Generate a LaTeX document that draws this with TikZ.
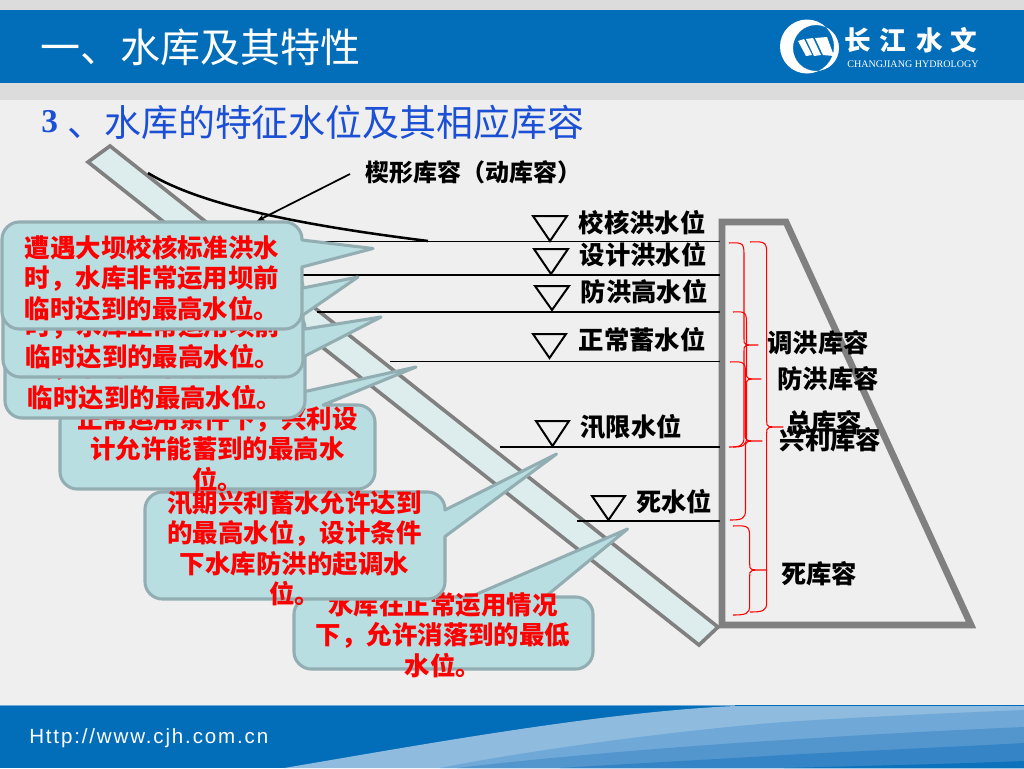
\documentclass[tikz,border=0pt]{standalone}
\usepackage{fontspec}
\setmainfont{Noto Sans CJK SC}
\newfontfamily\serifnum{Liberation Serif}
\newfontfamily\footfont[LetterSpace=9]{Liberation Sans}
\usetikzlibrary{arrows.meta}
\definecolor{pagebg}{HTML}{EFEFEF}
\definecolor{strip}{HTML}{DCDCDC}
\definecolor{barblue}{HTML}{026DB8}
\definecolor{bubblefill}{HTML}{B9DEE2}
\definecolor{bubbleline}{HTML}{92AEB2}
\definecolor{slabfill}{HTML}{DDEDED}
\definecolor{damgray}{HTML}{808080}
\definecolor{subblue}{HTML}{1B4FD6}
\definecolor{waveA}{HTML}{8FBBDE}
\definecolor{waveB}{HTML}{70A9D7}
\definecolor{waveC}{HTML}{5396CE}
\definecolor{waveD}{HTML}{3585C6}
\tikzset{
  bubblebox/.style={draw=bubbleline,fill=bubblefill,line width=2.3pt,line join=round},
  bubbletext/.style={text=red,font=\fontsize{19.1pt}{22.9pt}\selectfont\bfseries,align=center,inner sep=0pt},
  levellabel/.style={text=black,font=\fontsize{19pt}{22pt}\selectfont\bfseries,inner sep=0pt},
  waterline/.style={draw=black,line width=1.1pt},
  levelmark/.style={draw=black,line width=1.5pt,line join=miter},
  redbrace/.style={draw=red,line width=0.8pt,line join=round},
}
% x0 y0 x1 y1, insert on top edge, insert on right edge
\newcommand\bubble[6]{\draw[bubblebox] ({#1+17},#2) #5 -- ({#3-17},#2) .. controls ({#3-8},#2) and (#3,{#2+8}) .. (#3,{#2+17}) #6 -- (#3,{#4-17}) .. controls (#3,{#4-8}) and ({#3-8},#4) .. ({#3-17},#4) -- ({#1+17},#4) .. controls ({#1+8},#4) and (#1,{#4-8}) .. (#1,{#4-17}) -- (#1,{#2+17}) .. controls (#1,{#2+8}) and ({#1+8},#2) .. ({#1+17},#2) -- cycle;}
% x0 ytop spine tipx ymid ybottom
\newcommand\curlybrace[6]{\draw[redbrace] (#1,#2) .. controls (#3,{#2-1}) and (#3,{#2+1}) .. (#3,{#2+14}) -- (#3,{#5-6}) .. controls (#3,#5) .. (#4,#5) .. controls (#3,#5) .. (#3,{#5+6}) -- (#3,{#6-10}) .. controls (#3,{#6-1}) and ({#3-4},#6) .. (#1,#6);}
\newcommand\levelsign[4]{\draw[levelmark] (#1,#3) -- (#2,#3) -- ({(#1+#2)/2},#4) -- cycle;}
\begin{document}
\begin{tikzpicture}[x=0.75pt,y=-0.75pt]
\useasboundingbox (0,0) rectangle (1024,768);
% page
\fill[pagebg] (0,0) rectangle (1024,768);
\fill[strip] (0,0) rectangle (1024,100);
\fill[barblue] (0,10) rectangle (1024,83);
% footer
\fill[barblue] (0,705) rectangle (1024,768);
\draw[waveB,line width=0.8pt] (0,705.5) -- (735,705.5);
\fill[waveA] (284,768) .. controls (420,745) and (600,712) .. (735,706) -- (1024,706) -- (1024,768) -- cycle;
\fill[waveB] (440,768) .. controls (530,750) and (680,730) .. (784,722) .. controls (860,717) and (950,713) .. (1024,710) -- (1024,768) -- cycle;
\fill[waveC] (457,768) .. controls (540,758) and (680,746) .. (784,740) .. controls (860,735) and (950,730) .. (1024,727) -- (1024,768) -- cycle;
\fill[waveD] (560,768) .. controls (640,763) and (720,759) .. (784,755) .. controls (860,751) and (950,747) .. (1024,743) -- (1024,768) -- cycle;
\fill[barblue!80!waveD] (784,768) .. controls (860,766) and (950,764) .. (1024,761) -- (1024,768) -- cycle;
\node[anchor=west,text=white,inner sep=0pt,font=\footfont\fontsize{15.4pt}{18pt}\selectfont] (url) at (29,738) {Http://www.cjh.com.cn};
% header text
\node[anchor=west,text=white,inner sep=0pt,font=\fontsize{30pt}{36pt}\selectfont] (title) at (40,47) {一、水库及其特性};
\node[anchor=west,text=subblue,inner sep=0pt,font=\serifnum\bfseries\fontsize{25pt}{30pt}\selectfont] (subnum) at (41,122) {3};
\node[anchor=west,text=subblue,inner sep=0pt,font=\fontsize{27.7pt}{33pt}\selectfont] (subtitle) at (67,122) {、水库的特征水位及其相应库容};
% logo
\fill[white,even odd rule] (807,46.5) circle (27) (816,48) circle (23);
\fill[white] (798,41) -- (804,39) -- (812,55) -- (806,56) -- cycle;
\fill[white] (806,39) -- (813,38) -- (821,55) -- (814,56) -- cycle;
\fill[white] (815,38) -- (827,37) -- (834,56) -- (823,55) -- cycle;
\foreach \cx/\ch/\nm in {858/长/la,893/江/lb,930/水/lc,964/文/ld}
  \node[text=white,inner sep=0pt,font=\fontsize{20pt}{24pt}\selectfont\bfseries] (\nm) at (\cx,40) {\ch};
\node[text=white,inner sep=0pt,font=\serifnum\fontsize{7.55pt}{9pt}\selectfont] (logotext) at (913,64) {CHANGJIANG HYDROLOGY};
% slab
\draw[draw=damgray,fill=slabfill,line width=2.7pt,line join=miter] (110,146) -- (718,627) -- (699,645) -- (88,162) -- cycle;
% dam
\draw[draw=damgray,line width=5pt,line join=miter] (722,222) -- (786,222) -- (971,625) -- (722,625) -- cycle;
% water levels
\coordinate (wa) at (270,241.5); \coordinate (waR) at (720,241.5);
\coordinate (wb) at (270,275);   \coordinate (wbR) at (720,275);
\coordinate (wc) at (317,312);   \coordinate (wcR) at (720,312);
\coordinate (wd) at (390,361.5); \coordinate (wdR) at (720,361.5);
\coordinate (we) at (500,447);   \coordinate (weR) at (720,447);
\coordinate (wf) at (577,521);   \coordinate (wfR) at (720,521);
\draw[waterline] (wa) -- (waR);
\draw[waterline] (wb) -- (wbR);
\draw[waterline] (wc) -- (wcR);
\draw[waterline] (wd) -- (wdR);
\draw[waterline] (we) -- (weR);
\draw[waterline] (wf) -- (wfR);
\levelsign{533}{567}{216}{241}
\levelsign{534}{568}{249}{274}
\levelsign{535}{569}{286}{310}
\levelsign{533}{566}{334}{358}
\levelsign{536}{569}{421}{446}
\levelsign{592}{625}{496}{520}
% braces
\curlybrace{729}{243}{744}{758}{345}{447}
\curlybrace{733}{312}{746.5}{761}{379}{447}
\curlybrace{730}{362}{745.5}{762}{441}{520}
\curlybrace{750}{242}{766.7}{783}{427}{612}
\curlybrace{733}{526}{749.7}{766}{570}{615}
% labels
\node[levellabel] (l1) at (642,223) {校核洪水位};
\node[levellabel] (l2) at (643,255) {设计洪水位};
\node[levellabel] (l3) at (644,292) {防洪高水位};
\node[levellabel] (l4) at (642,340) {正常蓄水位};
\node[levellabel] (l5) at (631,427) {汛限水位};
\node[levellabel] (l6) at (674,502) {死水位};
\node[levellabel] (v1) at (818,343) {调洪库容};
\node[levellabel] (v2) at (828,379) {防洪库容};
\node[levellabel] (v3) at (824,423) {总库容};
\node[levellabel] (v4) at (830.5,440) {兴利库容};
\node[levellabel] (v5) at (819,574) {死库容};
% wedge storage
\node[levellabel,font=\fontsize{18pt}{22pt}\selectfont\bfseries] (wedgelabel) at (473,172) {楔形库容（动库容）};
\coordinate (wedgeA) at (148,173);
\coordinate (wedgeB) at (428,241);
\coordinate (arrowstart) at (350,174);
\coordinate (arrowend) at (257,221);
\draw[black,line width=1.9pt] (wedgeA) .. controls (200,205) and (300,225) .. (wedgeB);
\draw[black,line width=1.3pt,-{Stealth[length=6pt,width=5pt]}] (arrowstart) -- (arrowend);
% callouts, lowest first
\bubble{294}{597}{593}{669}{-- (470,597) -- (627.5,529) -- (545,597)}{}
\node[bubbletext] (t6) at (443,635) {水库在正常运用情况\\下，允许消落到的最低\\水位。};
\bubble{145}{492}{445}{599}{}{-- (445,510) -- (556.5,454) -- (445,536.5)}
\node[bubbletext] (t5) at (294.5,548) {汛期兴利蓄水允许达到\\的最高水位，设计条件\\下水库防洪的起调水\\位。};
\bubble{60}{405}{375}{489}{-- (244,405) -- (416,367) -- (323,405)}{}
\node[bubbletext] (t4) at (217.5,449) {正常运用条件下，兴利设\\计允许能蓄到的最高水\\位。};
\bubble{5}{311}{305}{418}{}{-- (305,329) -- (381,317) -- (305,356)}
\node[bubbletext] (t3) at (155,382.5) {时，水库正常运用坝前\\临时达到的最高水位。};
\bubble{3}{270}{303}{377}{}{-- (303,288) -- (358,277) -- (303,315)}
\node[bubbletext] (t2) at (153,341.5) {时，水库正常运用坝前\\临时达到的最高水位。};
\bubble{2}{222}{302}{329}{}{-- (302,240) -- (373,248.5) -- (302,267)}
\node[bubbletext] (t1) at (152,278) {遭遇大坝校核标准洪水\\时，水库非常运用坝前\\临时达到的最高水位。};
\end{tikzpicture}
\end{document}
